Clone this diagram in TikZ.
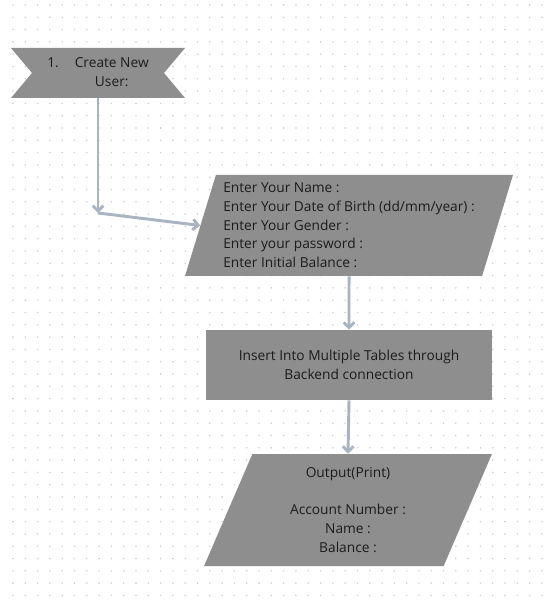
\documentclass[tikz,border=0pt]{standalone}
\usepackage{fontspec}
\setmainfont{Open Sans}
\usepackage{tikz}
\usetikzlibrary{positioning, calc, arrows.meta, shapes.geometric, shapes.symbols}

\definecolor{boxgray}{RGB}{142,142,142}
\definecolor{linegray}{RGB}{168,180,194}
\definecolor{dotgray}{RGB}{208,208,208}
\definecolor{inkgray}{RGB}{28,28,28}

\begin{document}
\begin{tikzpicture}[x=0.75pt, y=-0.75pt,
        flowline/.style={draw=linegray, line width=2.2pt, -{Straight Barb[length=4pt, width=8pt]}},
        iobox/.style={trapezium, trapezium stretches=true, fill=boxgray, inner sep=0pt,
            trapezium left angle=71, trapezium right angle=109, text=inkgray},
        procbox/.style={rectangle, fill=boxgray, inner sep=0pt, text=inkgray, align=center},
        txt/.style={font=\fontsize{10.3pt}{14pt}\selectfont}]
            \useasboundingbox (0,0) rectangle (549,605);
            \fill[white] (0,0) rectangle (549,605);

            % === Dotted background ===
            \foreach \i in {0,...,44}
                \foreach \j in {0,...,49}
                    \fill[dotgray] (13+12.3*\i, 5+12.3*\j) circle (0.9);

            % === Start banner ===
            \node[signal, signal from=west and east, signal to=nowhere, signal pointer angle=100,
                fill=boxgray, text=inkgray, inner sep=0pt, minimum width=130.5pt, minimum height=37.5pt, txt]
                (start) at (98,73) {\begin{tabular}{@{}l@{\hspace{12pt}}c@{}}1. & Create New\\ & User:\end{tabular}};

            % === Input ===
            \node[iobox, minimum width=246pt, minimum height=75.75pt, align=left, txt]
                (input) at (349,225.5) {Enter Your Name :\\
                    Enter Your Date of Birth (dd/mm/year) :\\
                    Enter Your Gender :\\
                    Enter your password :\\
                    Enter Initial Balance :};

            % === Backend ===
            \node[procbox, minimum width=214.5pt, minimum height=52.5pt, txt]
                (backend) at (349,365) {Insert Into Multiple Tables through\\Backend connection};

            % === Output ===
            \node[iobox, minimum width=216pt, minimum height=84pt, align=center, txt]
                (output) at (348,510) {Output(Print)\\[14pt]
                    Account Number :\\
                    Name :\\
                    Balance :};

            \coordinate (turn) at (98,213);

            \draw[flowline] (start.south) -- (turn);
            \draw[flowline] (turn) -- (input.west);
            \draw[flowline] (input.south) -- (backend.north);
            \draw[flowline] (backend.south) -- (output.north);
        \end{tikzpicture}
\end{document}
